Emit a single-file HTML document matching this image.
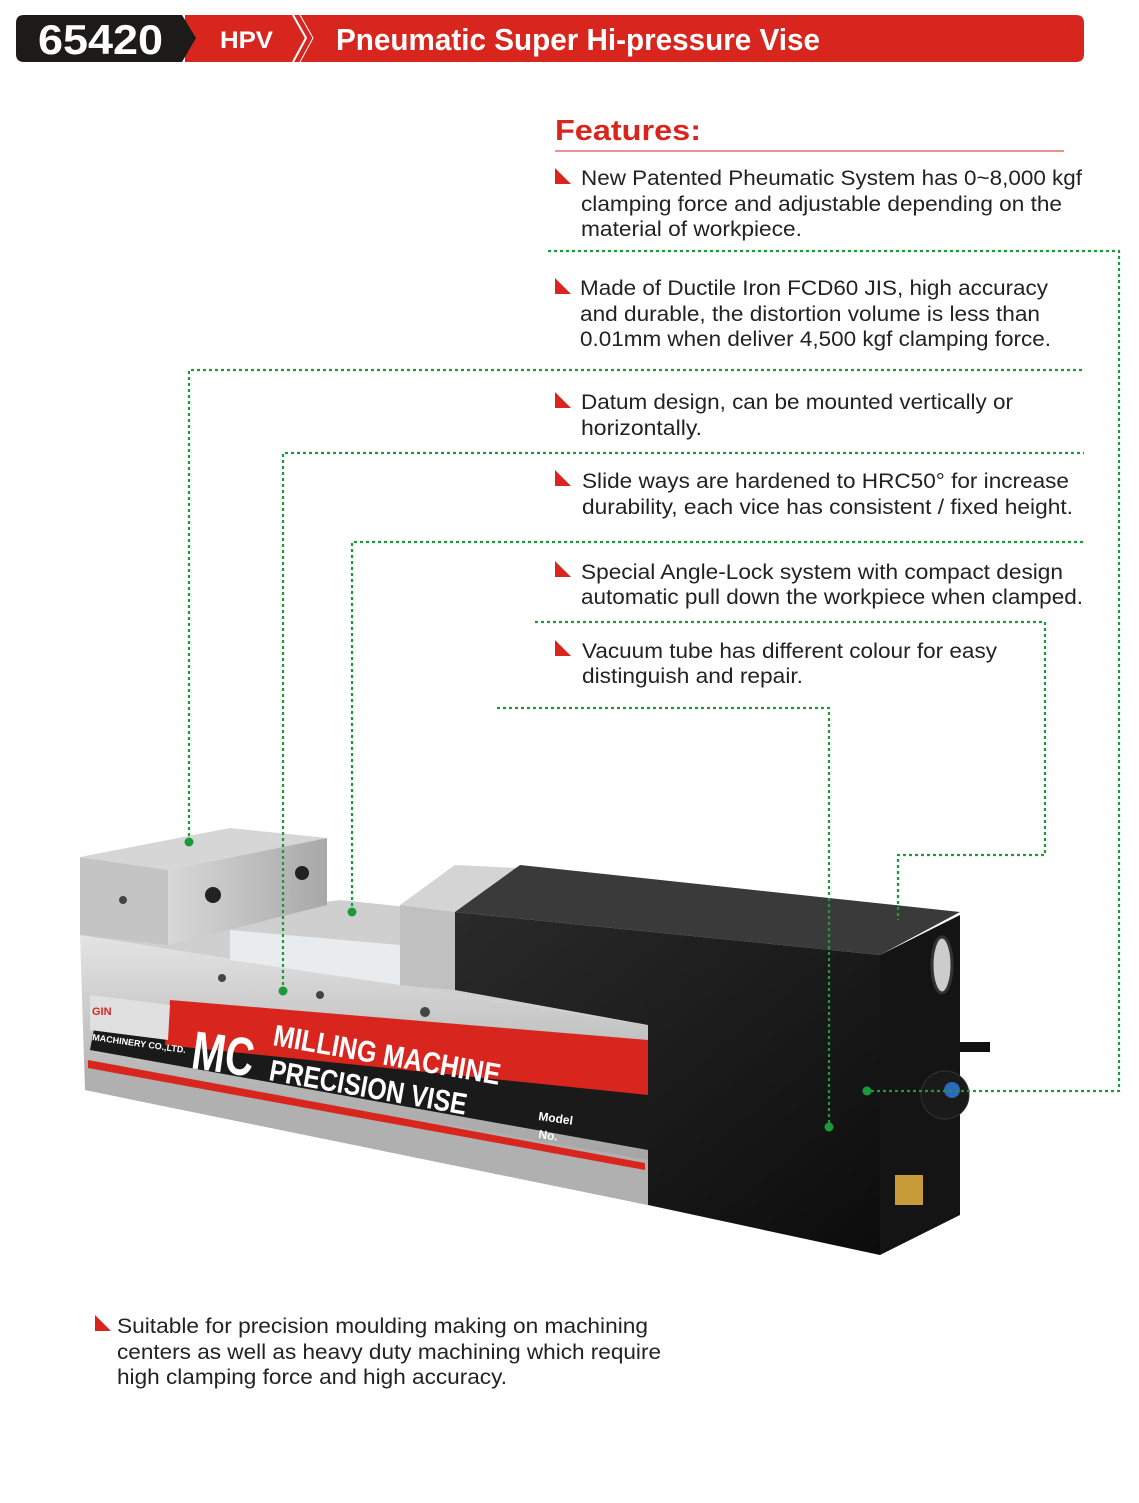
<!DOCTYPE html>
<html><head><meta charset="utf-8"><style>
html,body{margin:0;padding:0;background:#fff;}
svg{display:block;}
text{font-family:"Liberation Sans",sans-serif;}
.t{font-size:21px;fill:#222;}
.g{stroke:#1a9a3a;stroke-width:2.2;stroke-dasharray:3 3;fill:none;}
.d{fill:#1a9a3a;}
</style></head><body>
<svg width="1139" height="1503" viewBox="0 0 1139 1503" xmlns="http://www.w3.org/2000/svg">
<defs>
<linearGradient id="sil" x1="0" y1="0" x2="0" y2="1"><stop offset="0" stop-color="#e4e4e4"/><stop offset="0.5" stop-color="#b8b8b8"/><stop offset="1" stop-color="#9a9a9a"/></linearGradient>
<linearGradient id="sil2" x1="0" y1="0" x2="1" y2="0"><stop offset="0" stop-color="#d8d8d8"/><stop offset="1" stop-color="#a8a8a8"/></linearGradient>
<linearGradient id="blk" x1="0" y1="0" x2="1" y2="1"><stop offset="0" stop-color="#2a2a2a"/><stop offset="1" stop-color="#0c0c0c"/></linearGradient>
</defs>
<!-- header -->
<path d="M1076,15 Q1084,15 1084,23 L1084,54 Q1084,62 1076,62 L185,62 L185,15 Z" fill="#d8261e"/>
<path d="M24,15 L182,15 L196,38 L182,62 L24,62 Q16,62 16,54 L16,23 Q16,15 24,15 Z" fill="#1d1a1a"/>
<path d="M293,15 L306,38 L293,62" stroke="#fff" stroke-width="2" fill="none"/>
<path d="M300,15 L313,38 L300,62" stroke="#fff" stroke-width="1" fill="none"/>
<text x="38" y="54" font-size="42" font-weight="bold" fill="#fff" textLength="125" lengthAdjust="spacingAndGlyphs">65420</text>
<text x="220" y="48" font-size="24" font-weight="bold" fill="#fff" textLength="53" lengthAdjust="spacingAndGlyphs">HPV</text>
<text x="336" y="50" font-size="31" font-weight="bold" fill="#fff" textLength="484" lengthAdjust="spacingAndGlyphs">Pneumatic Super Hi-pressure  Vise</text>
<!-- features -->
<text x="555" y="140" font-size="29" font-weight="bold" fill="#d8261e" textLength="146" lengthAdjust="spacingAndGlyphs">Features:</text>
<line x1="555" y1="151" x2="1064" y2="151" stroke="#d8261e" stroke-width="1"/>
<g fill="#d8261e">
<polygon points="555,168 555,184 571,184"/>
<polygon points="555,278 555,294 571,294"/>
<polygon points="555,392 555,408 571,408"/>
<polygon points="555,470 555,486 571,486"/>
<polygon points="555,561 555,577 571,577"/>
<polygon points="555,640 555,656 571,656"/>
<polygon points="95,1315 95,1331 111,1331"/>
</g>
<g lengthAdjust="spacingAndGlyphs">
<text class="t" x="581" y="185" textLength="501" lengthAdjust="spacingAndGlyphs">New Patented Pheumatic System has 0~8,000 kgf</text>
<text class="t" x="581" y="211" textLength="481" lengthAdjust="spacingAndGlyphs">clamping force and adjustable depending on the</text>
<text class="t" x="581" y="236" textLength="221" lengthAdjust="spacingAndGlyphs">material of workpiece.</text>
<text class="t" x="580" y="295" textLength="468" lengthAdjust="spacingAndGlyphs">Made of Ductile Iron FCD60 JIS, high accuracy</text>
<text class="t" x="580" y="321" textLength="460" lengthAdjust="spacingAndGlyphs">and durable, the distortion volume is less than</text>
<text class="t" x="580" y="346" textLength="471" lengthAdjust="spacingAndGlyphs">0.01mm when deliver 4,500 kgf clamping force.</text>
<text class="t" x="581" y="409" textLength="432" lengthAdjust="spacingAndGlyphs">Datum design, can be mounted vertically or</text>
<text class="t" x="581" y="435" textLength="121" lengthAdjust="spacingAndGlyphs">horizontally.</text>
<text class="t" x="582" y="488" textLength="487" lengthAdjust="spacingAndGlyphs">Slide ways are hardened to HRC50° for increase</text>
<text class="t" x="582" y="514" textLength="491" lengthAdjust="spacingAndGlyphs">durability, each vice has consistent / fixed height.</text>
<text class="t" x="581" y="579" textLength="482" lengthAdjust="spacingAndGlyphs">Special Angle-Lock system with compact design</text>
<text class="t" x="581" y="604" textLength="502" lengthAdjust="spacingAndGlyphs">automatic pull down the workpiece when clamped.</text>
<text class="t" x="582" y="658" textLength="415" lengthAdjust="spacingAndGlyphs">Vacuum tube has different colour for easy</text>
<text class="t" x="582" y="683" textLength="221" lengthAdjust="spacingAndGlyphs">distinguish and repair.</text>
<text class="t" x="117" y="1333" textLength="531" lengthAdjust="spacingAndGlyphs">Suitable for precision moulding making on machining</text>
<text class="t" x="117" y="1359" textLength="544" lengthAdjust="spacingAndGlyphs">centers as well as heavy duty machining which require</text>
<text class="t" x="117" y="1384" textLength="390" lengthAdjust="spacingAndGlyphs">high clamping force and high accuracy.</text>
</g>
<!-- vise -->
<g>
<polygon points="80,935 648,1025 648,1205 85,1090" fill="url(#sil)"/>
<polygon points="80,935 340,900 455,912 648,1000 648,1025" fill="#cfcfcf"/>
<polygon points="230,930 400,945 400,985 230,960" fill="#e8ecee"/>
<polygon points="100,998 648,1090 648,1150 90,1050" fill="#1a1a1a"/>
<polygon points="170,1000 648,1040 648,1095 165,1045" fill="#d8261e"/>
<polygon points="85,1060 648,1160 648,1205 85,1090" fill="#b0b0b0"/>
<polygon points="88,1060 645,1163 645,1170 88,1068" fill="#d8261e"/>
<polygon points="90,995 170,1005 168,1040 90,1030" fill="#e0e0e0"/>
<text x="92" y="1015" font-size="11" font-weight="bold" fill="#d8261e">GIN</text>
<text x="92" y="1040" font-size="9" font-weight="bold" fill="#fff" transform="rotate(8 92 1040)">MACHINERY CO.,LTD.</text>
<text x="190" y="1068" font-size="54" font-weight="bold" fill="#fff" textLength="62" lengthAdjust="spacingAndGlyphs" transform="rotate(8 190 1068)">MC</text>
<text x="272" y="1045" font-size="30" font-weight="bold" fill="#fff" textLength="230" lengthAdjust="spacingAndGlyphs" transform="rotate(10 272 1045)">MILLING MACHINE</text>
<text x="268" y="1080" font-size="30" font-weight="bold" fill="#fff" textLength="200" lengthAdjust="spacingAndGlyphs" transform="rotate(10 268 1080)">PRECISION VISE</text>
<text x="538" y="1120" font-size="12" font-weight="bold" fill="#fff" transform="rotate(8 538 1120)">Model</text>
<text x="538" y="1138" font-size="12" font-weight="bold" fill="#fff" transform="rotate(8 538 1138)">No.</text>
<circle cx="222" cy="978" r="4" fill="#444"/><circle cx="320" cy="995" r="4" fill="#444"/><circle cx="425" cy="1012" r="5" fill="#444"/>
<polygon points="80,857 230,828 327,838 168,870" fill="#d6d6d6"/>
<polygon points="80,857 168,870 168,945 80,935" fill="#c4c4c4"/>
<polygon points="168,870 327,838 327,905 168,945" fill="url(#sil2)"/>
<circle cx="123" cy="900" r="4" fill="#444"/><circle cx="213" cy="895" r="8" fill="#222"/><circle cx="302" cy="873" r="7" fill="#222"/>
<polygon points="400,905 455,865 560,870 455,912" fill="#d4d4d4"/>
<polygon points="400,905 455,912 455,990 400,985" fill="#c0c0c0"/>
<polygon points="455,912 520,865 960,912 880,955" fill="#3a3a3a"/>
<polygon points="455,912 880,955 880,1255 648,1205 648,1025 455,990" fill="url(#blk)"/>
<polygon points="880,955 960,915 960,1215 880,1255" fill="#141414"/>
<ellipse cx="942" cy="965" rx="10" ry="28" fill="#ccc" stroke="#333" stroke-width="3"/>
<circle cx="945" cy="1095" r="24" fill="#1a1a1a" stroke="#333"/>
<circle cx="952" cy="1090" r="8" fill="#2a6ab8"/>
<rect x="960" y="1042" width="30" height="10" fill="#111"/>
<rect x="895" y="1175" width="28" height="30" fill="#c79a3a"/>
</g>
<!-- connectors -->
<path class="g" d="M548,251 H1119 V1091 H867"/>
<path class="g" d="M189,842 V370 H1084"/>
<path class="g" d="M283,991 V453 H1084"/>
<path class="g" d="M352,912 V542 H1084"/>
<path class="g" d="M535,622 H1045 V855 H898 V920"/>
<path class="g" d="M497,708 H829 V1127"/>
<circle class="d" cx="867" cy="1091" r="4.5"/>
<circle class="d" cx="189" cy="842" r="4.5"/>
<circle class="d" cx="283" cy="991" r="4.5"/>
<circle class="d" cx="352" cy="912" r="4.5"/>
<circle class="d" cx="829" cy="1127" r="4.5"/>
</svg>
</body></html>
